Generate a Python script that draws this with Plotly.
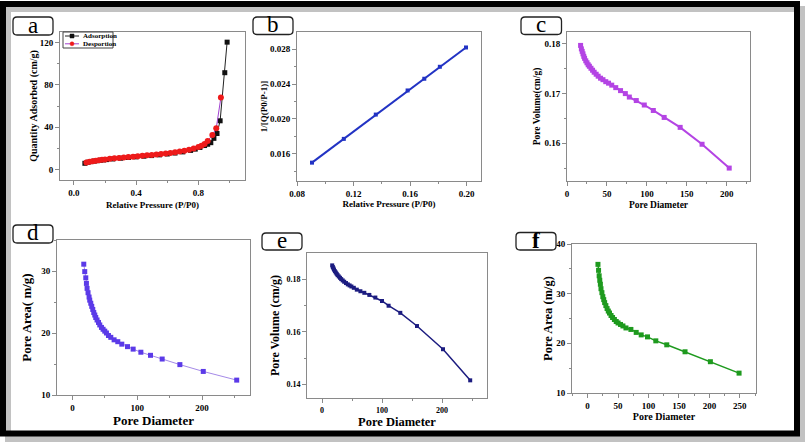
import plotly.graph_objects as go

W, H = 808, 446

# ---------------- data ----------------
ads_p = [0.07, 0.09, 0.11, 0.13, 0.15, 0.17, 0.19, 0.21, 0.25, 0.30, 0.35, 0.40, 0.45, 0.50,
         0.55, 0.60, 0.65, 0.70, 0.75, 0.78, 0.81, 0.84, 0.86, 0.88, 0.90, 0.92, 0.94, 0.97, 0.985]
ads_q = [5.8, 6.8, 7.4, 7.9, 8.3, 8.7, 9.0, 9.3, 9.9, 10.6, 11.3, 11.9, 12.5, 13.1,
         13.8, 14.6, 15.5, 16.6, 18.0, 19.2, 20.8, 22.6, 23.8, 25.3, 29.4, 34.0, 46.0, 91.5, 120.4]
des_p = [0.08, 0.10, 0.12, 0.14, 0.16, 0.18, 0.20, 0.23, 0.26, 0.29, 0.32, 0.35, 0.38, 0.41,
         0.44, 0.47, 0.50, 0.53, 0.56, 0.59, 0.62, 0.65, 0.68, 0.71, 0.74, 0.77, 0.80, 0.82,
         0.84, 0.86, 0.89, 0.915, 0.945]
des_q = [6.5, 7.2, 7.8, 8.3, 8.7, 9.1, 9.5, 10.0, 10.5, 10.9, 11.3, 11.7, 12.1, 12.5,
         12.9, 13.3, 13.7, 14.1, 14.6, 15.1, 15.6, 16.2, 16.9, 17.7, 18.6, 19.7, 21.2, 22.5,
         24.0, 27.0, 32.5, 39.0, 68.0]

bet_p = [0.0906, 0.1131, 0.1357, 0.1582, 0.1700, 0.1810, 0.1995]
bet_y = [0.0150, 0.01772, 0.0205, 0.02326, 0.0246, 0.02597, 0.02818]

c_d = [17, 18, 19, 20, 21, 22, 23.5, 25, 26.5, 28, 30, 32, 34, 36.5, 39, 42, 45, 48.5, 52,
       56, 61, 67, 73, 78, 86.7, 96.7, 108, 121.6, 141.6, 169, 203]
c_v = [0.1797, 0.1790, 0.1785, 0.1780, 0.1775, 0.1771, 0.1766, 0.1762, 0.1758, 0.1755, 0.1751,
       0.1747, 0.1743, 0.1739, 0.1735, 0.1731, 0.1728, 0.1724, 0.1721, 0.1717, 0.1712, 0.1706,
       0.1700, 0.1693, 0.1686, 0.1677, 0.1666, 0.1652, 0.1632, 0.1598, 0.1550]

d_d = [17.5, 19.0, 20.6, 21.6, 22.6, 24.1, 25.7, 26.7, 28.3, 29.8, 31.4, 32.9, 34.5, 36.0, 38.0,
       40.2, 42.2, 44.8, 47.3, 49.9, 52.5, 55.6, 59.2, 64.3, 70.0, 76.2, 85.0, 93.7, 105.6,
       120.5, 138.5, 165.8, 201.9, 253.5]
d_a = [31.1, 29.9, 28.9, 28.0, 27.2, 26.5, 25.8, 25.3, 24.8, 24.3, 23.8, 23.3, 22.9, 22.5, 22.1,
       21.7, 21.3, 20.9, 20.6, 20.3, 20.0, 19.6, 19.3, 18.9, 18.6, 18.2, 17.8, 17.4, 16.9,
       16.4, 15.8, 14.9, 13.8, 12.4]

e_d = [17, 18, 19, 20, 21.5, 23, 24.5, 26, 28, 30, 32, 34.5, 37, 40, 43, 46, 49, 53, 58, 64,
       70.5, 78.9, 88.9, 100, 111, 130.5, 158.3, 201.7, 247]
e_v = [0.1852, 0.1846, 0.1841, 0.1836, 0.1830, 0.1825, 0.1820, 0.1815, 0.1810, 0.1805, 0.1800,
       0.1795, 0.1790, 0.1785, 0.1780, 0.1776, 0.1772, 0.1767, 0.1760, 0.1754, 0.1748, 0.1740,
       0.1730, 0.1717, 0.1699, 0.1672, 0.1622, 0.1534, 0.1416]

f_d = [17, 18, 19, 20, 21, 22, 23.5, 25, 26.5, 28, 30, 32, 34, 36, 38.5, 41, 44, 47, 50, 54,
       58, 63, 71.1, 79.8, 88, 98.4, 112, 130, 160, 201.6, 248.7]
f_a = [35.9, 34.7, 33.6, 32.7, 31.9, 31.0, 30.2, 29.4, 28.8, 28.2, 27.6, 27.0, 26.5, 26.1, 25.6,
       25.2, 24.8, 24.4, 24.1, 23.8, 23.5, 23.1, 22.8, 22.2, 21.7, 21.3, 20.5, 19.7, 18.3,
       16.3, 14.0]

panel_labels = ["a", "b", "c", "d", "e", "f"]
legend_names = ["Adsorption", "Desportion"]

# ---------------- helpers ----------------
def px_x(x):
    return x / W

def px_y(y):
    return 1 - y / H

SERIF = "Liberation Serif"

fig = go.Figure()

fig.add_trace(go.Scatter(x=ads_p, y=ads_q, mode="lines+markers", name=legend_names[0],
                         line=dict(color="#222222", width=1),
                         marker=dict(symbol="square", size=5, color="#111111"),
                         xaxis="x", yaxis="y"))
fig.add_trace(go.Scatter(x=des_p, y=des_q, mode="lines+markers", name=legend_names[1],
                         line=dict(color="#a040d0", width=1),
                         marker=dict(symbol="circle", size=6, color="#ee1a1a"),
                         xaxis="x", yaxis="y"))
fig.add_trace(go.Scatter(x=bet_p, y=bet_y, mode="lines+markers",
                         line=dict(color="#2233c4", width=2),
                         marker=dict(symbol="square", size=4, color="#2233c4"),
                         xaxis="x2", yaxis="y2"))
fig.add_trace(go.Scatter(x=c_d, y=c_v, mode="lines+markers",
                         line=dict(color="#b444e4", width=2),
                         marker=dict(symbol="square", size=5, color="#b444e4"),
                         xaxis="x3", yaxis="y3"))
fig.add_trace(go.Scatter(x=d_d, y=d_a, mode="lines+markers",
                         line=dict(color="#a58ae8", width=1),
                         marker=dict(symbol="square", size=5, color="#5b3ae8"),
                         xaxis="x4", yaxis="y4"))
fig.add_trace(go.Scatter(x=e_d, y=e_v, mode="lines+markers",
                         line=dict(color="#1c1c80", width=1.5),
                         marker=dict(symbol="square", size=4, color="#1c1c80"),
                         xaxis="x5", yaxis="y5"))
fig.add_trace(go.Scatter(x=f_d, y=f_a, mode="lines+markers",
                         line=dict(color="#1e9a1e", width=1.5),
                         marker=dict(symbol="square", size=5, color="#1e9a1e"),
                         xaxis="x6", yaxis="y6"))

def axis(domain, rng, tickvals, fmt, title, tsize, fsize, standoff, anchor, minor_dtick):
    return dict(domain=domain, range=rng, tickvals=tickvals, tickformat=fmt,
                showgrid=False, zeroline=False, showline=True, mirror=True,
                linecolor="#8a8a8a", linewidth=1, ticks="outside", ticklen=4,
                tickcolor="#8a8a8a", anchor=anchor,
                tickfont=dict(family=SERIF, size=tsize, color="black", weight="bold"),
                title=dict(text=title, standoff=standoff,
                           font=dict(family=SERIF, size=fsize, color="black", weight="bold")),
                minor=dict(ticks="outside", ticklen=2, tickcolor="#8a8a8a", dtick=minor_dtick,
                           showgrid=False),
                automargin=False)

# plot boxes in pixels: (x0, x1, y0, y1)
boxes = {
    1: (60, 245, 32, 180),
    2: (297, 481, 32, 181),
    3: (567, 750, 32, 181),
    4: (57, 250, 240, 395),
    5: (307, 487, 253, 398),
    6: (572, 756, 244, 393),
}

def dom(b):
    x0, x1, y0, y1 = b
    return [px_x(x0), px_x(x1)], [px_y(y1), px_y(y0)]

layout = {}
specs = [
    # idx, xrange, xticks, xfmt, xtitle, yrange, yticks, yfmt, ytitle,
    # tick size, x-title size, y-title size, x minor, y minor, x standoff, y standoff
    (1, [-0.09, 1.10], [0.0, 0.4, 0.8], ".1f", "Relative Pressure (P/P0)",
     [-10, 130], [0, 40, 80, 120], "d", "Quantity Adsorbed (cm/g)", 9, 9, 10, 0.2, 20, 4, 0),
    (2, [0.08, 0.2101], [0.08, 0.12, 0.16, 0.20], ".2f", "Relative Pressure (P/P0)",
     [0.0129, 0.02995], [0.016, 0.020, 0.024, 0.028], ".3f", "1/[Q(P0/P-1)]", 9, 9, 9, 0.02, 0.002, 1, 0),
    (3, [0, 229], [0, 50, 100, 150, 200], "d", "Pore Diameter",
     [0.1524, 0.1824], [0.16, 0.17, 0.18], ".2f", "Pore Volume(cm/g)", 9, 9.5, 9.5, 25, 0.005, 3, 2),
    (4, [-23.8, 274], [0, 100, 200], "d", "Pore Diameter",
     [10, 35], [10, 20, 30], "d", "Pore Area( m/g)", 9, 13, 13, 50, 5, 3, 6),
    (5, [-25, 275], [0, 100, 200], "d", "Pore Diameter",
     [0.1349, 0.1899], [0.14, 0.16, 0.18], ".2f", "Pore Volume (cm/g)", 8, 12.5, 12, 50, 0.01, 0, 4),
    (6, [-25.6, 276.5], [0, 50, 100, 150, 200, 250], "d", "Pore Diameter",
     [10, 40], [10, 20, 30, 40], "d", "Pore Area (m/g)", 9, 10, 12.5, 25, 5, 2, 0),
]
for (i, xr, xt, xf, xtt, yr, yt, yf, ytt, ts, xs, ys, xm, ym, xso, yso) in specs:
    xd, yd = dom(boxes[i])
    sfx = "" if i == 1 else str(i)
    layout["xaxis" + sfx] = axis(xd, xr, xt, xf, xtt, ts, xs, xso, "y" + sfx, xm)
    layout["yaxis" + sfx] = axis(yd, yr, yt, yf, ytt, ts, ys, yso, "x" + sfx, ym)

fig.update_layout(**layout)

shapes = []
# drop shadow and outer frame
shapes.append(dict(type="rect", xref="paper", yref="paper",
                   x0=px_x(8), x1=px_x(802), y0=px_y(439), y1=px_y(9),
                   line=dict(color="rgba(120,120,120,0.45)", width=6), layer="below"))
shapes.append(dict(type="rect", xref="paper", yref="paper",
                   x0=px_x(3), x1=px_x(797), y0=px_y(433.5), y1=px_y(4),
                   line=dict(color="black", width=6)))

# rounded label boxes (pixel boxes)
label_boxes = [(13, 53, 17, 35), (253, 293, 17, 34.5), (521, 561.5, 17, 34.5),
               (13, 53, 225, 243), (262, 302, 233, 250), (516, 556, 232.5, 250)]

def rounded(x0, x1, y0, y1, r=4):
    def P(x, y):
        return f"{px_x(x):.5f},{px_y(y):.5f}"
    return (f"M {P(x0 + r, y0)} L {P(x1 - r, y0)} Q {P(x1, y0)} {P(x1, y0 + r)} "
            f"L {P(x1, y1 - r)} Q {P(x1, y1)} {P(x1 - r, y1)} "
            f"L {P(x0 + r, y1)} Q {P(x0, y1)} {P(x0, y1 - r)} "
            f"L {P(x0, y0 + r)} Q {P(x0, y0)} {P(x0 + r, y0)} Z")

annotations = []
for lab, (x0, x1, y0, y1) in zip(panel_labels, label_boxes):
    shapes.append(dict(type="path", xref="paper", yref="paper", path=rounded(x0, x1, y0, y1),
                       line=dict(color="#222222", width=1.3), fillcolor="white"))
    annotations.append(dict(text=lab, xref="paper", yref="paper", showarrow=False,
                            x=px_x((x0 + x1) / 2), y=px_y((y0 + y1) / 2 - 1),
                            xanchor="center", yanchor="middle",
                            font=dict(family=SERIF, size=23, color="black",
                                      weight="bold" if lab == "f" else "normal")))

# compact key box for panel a
lg_x0, lg_x1, lg_y0, lg_y1 = 63, 113, 32, 48
shapes.append(dict(type="rect", xref="paper", yref="paper",
                   x0=px_x(lg_x0), x1=px_x(lg_x1), y0=px_y(lg_y1), y1=px_y(lg_y0),
                   line=dict(color="#444444", width=1), fillcolor="white"))
key_rows = [(36, "#222222", "rect", "#111111"), (43.8, "#a040d0", "circle", "#ee1a1a")]
for name, (ry, lcol, mshape, mcol) in zip(legend_names, key_rows):
    shapes.append(dict(type="line", xref="paper", yref="paper",
                       x0=px_x(65), x1=px_x(79), y0=px_y(ry), y1=px_y(ry),
                       line=dict(color=lcol, width=1)))
    shapes.append(dict(type=mshape, xref="paper", yref="paper",
                       x0=px_x(70), x1=px_x(74), y0=px_y(ry + 2), y1=px_y(ry - 2),
                       line=dict(color=mcol, width=0.5), fillcolor=mcol))
    annotations.append(dict(text=name, xref="paper", yref="paper", showarrow=False,
                            x=px_x(81), y=px_y(ry), xanchor="left", yanchor="middle",
                            font=dict(family=SERIF, size=7, color="black", weight="bold")))

fig.update_layout(
    width=W, height=H, margin=dict(l=0, r=0, t=0, b=0),
    paper_bgcolor="white", plot_bgcolor="white",
    shapes=shapes, annotations=annotations,
    showlegend=False,
)

fig.write_html("out.html", config={"displayModeBar": False},
               post_script="document.body.style.margin='0px';")
